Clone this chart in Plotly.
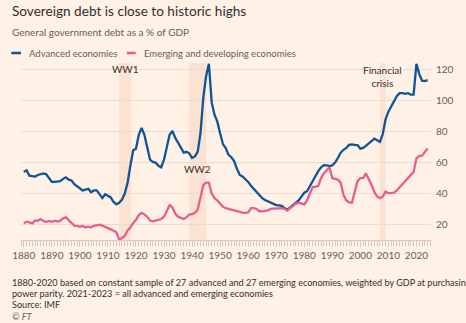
import plotly.graph_objects as go

years = list(range(1880, 2025))

advanced = [
    54, 55, 51.5, 51, 51, 52, 52.5, 53, 52.5, 50,          # 1880-1889
    47.5, 47.5, 48, 48, 49.5, 50.5, 49, 48.5, 46, 44.5,    # 1890-1899
    43, 42, 42.5, 43, 40.8, 42, 42, 39.7, 37, 39.5,        # 1900-1909
    38.6, 37.5, 34.5, 33, 34, 36, 40, 47, 58, 68,          # 1910-1919
    69, 78, 82.5, 78, 70, 62, 60.5, 60, 58, 57,            # 1920-1929
    62, 70, 78, 80.5, 76, 73, 70, 66.5, 67, 66,            # 1930-1939
    63, 64, 67, 79, 102, 116, 124, 99, 91, 86.5,           # 1940-1949
    79, 72, 69.5, 65, 63.5, 61, 56, 52, 51, 49.5,          # 1950-1959
    47.5, 45, 43, 41, 39, 37, 35.8, 35, 34.3, 33,          # 1960-1969
    32.5, 32.3, 32, 30.5, 29.5, 31, 32.5, 34, 35.5, 38,    # 1970-1979
    40.5, 41.5, 45, 48.5, 51, 54.5, 57, 58.4, 58.2, 57.8,  # 1980-1989
    58.2, 60, 63, 66.5, 68.3, 69.5, 71.5, 71.8, 71.5, 71.4,  # 1990-1999
    69, 69.5, 70.8, 72.5, 74, 75.5, 74.5, 73.5, 78.5, 88,  # 2000-2009
    93, 96.5, 100, 103, 105, 105, 104.5, 105, 104, 104,    # 2010-2019
    124, 117.5, 113, 112.8, 113.4,                         # 2020-2024
]

emerging = [
    20.7, 21.8, 21.3, 20.7, 22.4, 22.4, 23.4, 22.2, 21.7, 22.2,  # 1880-1889
    21.7, 22.4, 21.8, 22.4, 23.9, 24.6, 22.8, 20.7, 19.2, 19,    # 1890-1899
    18.5, 19, 18.1, 18.5, 18.1, 19, 19.6, 19.8, 19.2, 18.5,      # 1900-1909
    17.9, 16.8, 15.9, 15, 10, 11.5, 12.5, 16, 18, 21,            # 1910-1919
    23, 26, 27.5, 26.5, 25, 22.5, 22, 22.5, 23.2, 23.5,          # 1920-1929
    25, 28.5, 32.5, 31, 27, 25, 24, 23.5, 24.5, 26.5,            # 1930-1939
    26.5, 27.5, 29.5, 38, 45.5, 47, 47, 40, 37, 35.5,            # 1940-1949
    33.5, 31.5, 30.5, 30, 29.8, 29, 28.3, 28, 27.6, 27.5,        # 1950-1959
    27.8, 30.5, 30.5, 30, 28.5, 28.5, 28.8, 29, 30, 30.2,        # 1960-1969
    30.3, 30.4, 30.5, 30, 29, 30.5, 32, 33.5, 34, 33.5,          # 1970-1979
    33, 35.5, 40, 44.2, 44.5, 45, 50, 53, 55, 57,                # 1980-1989
    50, 49.5, 49, 47, 39, 35.5, 34.3, 34, 42, 48,                # 1990-1999
    50, 50, 53, 49.5, 45.5, 41, 38, 37, 38, 41.2,                # 2000-2009
    40.2, 40.2, 40.5, 42, 44, 46.5, 48, 50, 52.5, 54,            # 2010-2019
    62.8, 64.3, 64.5, 67, 69.2,                                  # 2020-2024
]

series_names = ["Advanced economies", "Emerging and developing economies"]
series_colors = ["#0F5499", "#E95D8C"]

episodes = [(1914, 1918.3, "WW1"), (1939, 1945, "WW2"), (2007, 2009, "Financial<br>crisis")]
episode_label_pos = [(1916.2, 120.5), (1942, 56), (2008, 115.5)]

y_ticks = [20, 40, 60, 80, 100, 120]
x_ticks = list(range(1880, 2021, 10))

BG = "#FFF1E5"
TXT = "#33302E"
SUB = "#66605C"
FONT = "Lato"

fig = go.Figure()

# shaded episodes
for (x0, x1, _) in episodes:
    fig.add_vrect(x0=x0, x1=x1, fillcolor="#FBE2D1", opacity=1, line_width=0, layer="below")

for name, vals, col in zip(series_names, [advanced, emerging], series_colors):
    fig.add_trace(go.Scatter(x=years, y=vals, mode="lines", name=name,
                             line=dict(color=col, width=2.3), showlegend=False,
                             hoverinfo="skip", cliponaxis=False))

# episode labels
for (x0, x1, lab), (lx, ly) in zip(episodes, episode_label_pos):
    fig.add_annotation(x=lx, y=ly, xref="x", yref="y", text=lab, showarrow=False,
                       font=dict(family=FONT, size=10, color=TXT), align="center")

W, H = 466, 323
ml, mr, mt, mb = 13, 31, 63, 83

def px(x):
    return (x - ml) / (W - ml - mr)

def py(y):
    return 1 - (y - mt) / (H - mt - mb)

# legend (manual)
leg = [(3, 13, 19, series_names[0], series_colors[0]), (122, 131, 138, series_names[1], series_colors[1])]
for x0, x1, tx, name, col in leg:
    fig.add_shape(type="line", xref="paper", yref="paper", x0=px(x0), x1=px(x1),
                  y0=py(53), y1=py(53), line=dict(color=col, width=2.5))
    fig.add_annotation(xref="paper", yref="paper", x=px(tx), y=py(53), text=name,
                       showarrow=False, xanchor="left", yanchor="middle",
                       font=dict(family=FONT, size=9.5, color=SUB))

# title, subtitle, footnotes
texts = [
    (11, "Sovereign debt is close to historic highs", 13.6, TXT),
    (32, "General government debt as a % of GDP", 10, SUB),
    (282, "1880-2020 based on constant sample of 27 advanced and 27 emerging economies, weighted by GDP at purchasing", 9.1, TXT),
    (293.5, "power parity. 2021-2023 = all advanced and emerging economies", 9.1, TXT),
    (304.5, "Source: IMF", 9.1, TXT),
    (316, "<i>© FT</i>", 9.1, SUB),
]
for y, t, s, c in texts:
    fig.add_annotation(xref="paper", yref="paper", x=px(2), y=py(y), text=t,
                       showarrow=False, xanchor="left", yanchor="middle",
                       font=dict(family=FONT, size=s, color=c))

fig.update_layout(
    width=W, height=H,
    margin=dict(l=ml, r=mr, t=mt, b=mb, pad=0),
    paper_bgcolor=BG, plot_bgcolor=BG,
    font=dict(family=FONT, color=SUB, size=10),
    xaxis=dict(range=[1879, 2025.2], tickvals=x_ticks, ticks="outside", ticklen=6,
               tickcolor="#D6C9BE", tickwidth=1, showgrid=False, zeroline=False,
               showline=True, linecolor="#D6C9BE", linewidth=1,
               tickfont=dict(family=FONT, size=10, color=SUB),
               minor=dict(dtick=1, ticks="outside", ticklen=5, tickcolor="#D6C9BE", showgrid=False)),
    yaxis=dict(range=[9.9, 124.5], side="right", tickvals=y_ticks, showgrid=True,
               gridcolor="#EBDDD0", gridwidth=1, zeroline=False, ticks="",
               ticklabelstandoff=4,
               tickfont=dict(family=FONT, size=10, color=SUB)),
)

fig.write_html("out.html")
